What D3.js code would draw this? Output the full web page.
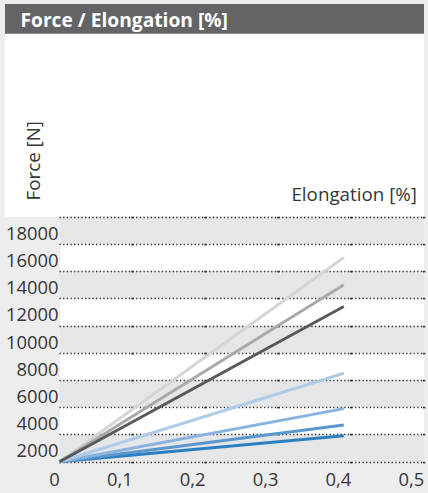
<!DOCTYPE html>
<html>
<head>
<meta charset="utf-8">
<script src="https://cdn.jsdelivr.net/npm/d3@7"></script>
<style>
  html, body { margin: 0; padding: 0; background: #ededed; }
  svg { display: block; font-family: "Open Sans", "Noto Sans", sans-serif; }
</style>
</head>
<body>
<svg id="chart" width="428" height="493"></svg>
<script>
// Elongation [%] sampled at the start and end of each test curve
const elongation = [0, 0.39];

// Force [N] for each curve, lightest grey to darkest blue
const forceLightGrey = [1000, 16000];
const forceMidGrey   = [1000, 14000];
const forceDarkGrey  = [1000, 12400];
const forceBlue1     = [1000, 7500];
const forceBlue2     = [1000, 4900];
const forceBlue3     = [1000, 3700];
const forceBlue4     = [1000, 2900];

const yTickValues = [2000, 4000, 6000, 8000, 10000, 12000, 14000, 16000, 18000];
const xTickValues = [0, 0.1, 0.2, 0.3, 0.4, 0.5];

const title = "Force / Elongation [%]";
const yTitle = "Force [N]";
const xTitle = "Elongation [%]";

const series = [
  { values: forceBlue4,     color: "#2a7fc0" },
  { values: forceBlue3,     color: "#5b97cf" },
  { values: forceBlue2,     color: "#88b3de" },
  { values: forceBlue1,     color: "#aecbe9" },
  { values: forceLightGrey, color: "#d4d5d7" },
  { values: forceMidGrey,   color: "#a8a9ac" },
  { values: forceDarkGrey,  color: "#59595c" }
];

const svg = d3.select("#chart");

const x = d3.scaleLinear().domain([0, 0.5]).range([59.5, 424]);
// each labelled value sits in the middle of its own band, bands are 2000 N tall
const y = d3.scaleLinear().domain([1000, 19000]).range([461.7, 216.7]);

// header bar
svg.append("rect").attr("x", 5).attr("y", 4).attr("width", 419).attr("height", 30).attr("fill", "#646466");
svg.append("rect").attr("x", 5).attr("y", 33).attr("width", 419).attr("height", 1.2).attr("fill", "#8d8d8f");
svg.append("text")
  .attr("x", 20.5).attr("y", 27.3)
  .attr("fill", "#ffffff")
  .attr("font-weight", 700)
  .attr("font-size", "19.2px")
  .text(title);

// white panel holding the axis titles
svg.append("rect").attr("x", 5).attr("y", 34.2).attr("width", 419).attr("height", y(19000) - 34.2).attr("fill", "#ffffff");

// alternating bands
const plot = svg.append("g");
plot.selectAll("rect.band")
  .data(yTickValues)
  .join("rect")
  .attr("class", "band")
  .attr("x", x(0) + 0.5)
  .attr("width", x(0.5) - x(0) - 0.5)
  .attr("y", d => y(d + 1000))
  .attr("height", d => y(d - 1000) - y(d + 1000))
  .attr("fill", d => (d / 2000) % 2 === 1 ? "#e5e6e7" : "#ffffff");

// dotted band boundaries
const gridValues = d3.range(1000, 19001, 2000);
plot.selectAll("line.grid")
  .data(gridValues)
  .join("line")
  .attr("class", "grid")
  .attr("x1", x(0)).attr("x2", x(0.5))
  .attr("y1", d => Math.round(y(d)) + 0.5)
  .attr("y2", d => Math.round(y(d)) + 0.5)
  .attr("stroke", "#2b2b2b")
  .attr("stroke-width", 1.3)
  .attr("stroke-dasharray", "1.3 2.35");

// heavier marks where the x ticks cross each boundary
const crossings = [];
gridValues.forEach(g => xTickValues.slice(1).forEach(t => crossings.push([t, g])));
plot.selectAll("rect.tick")
  .data(crossings)
  .join("rect")
  .attr("class", "tick")
  .attr("x", d => x(d[0]) - 1)
  .attr("y", d => Math.round(y(d[1])) - 0.2)
  .attr("width", 2.2)
  .attr("height", 1.6)
  .attr("fill", "#2b2b2b");

// curves
const line = d3.line()
  .x((d, i) => x(elongation[i]))
  .y(d => y(d));

svg.append("g")
  .selectAll("path")
  .data(series)
  .join("path")
  .attr("d", s => line(s.values))
  .attr("fill", "none")
  .attr("stroke", s => s.color)
  .attr("stroke-width", 3);

// y tick labels
svg.append("g")
  .selectAll("text")
  .data(yTickValues)
  .join("text")
  .attr("x", 58.5)
  .attr("y", d => y(d) + 9.3)
  .attr("text-anchor", "end")
  .attr("fill", "#363636")
  .attr("font-size", "18.4px")
  .text(d => d);

// x tick labels (decimal comma)
const fmtComma = d => d === 0 ? "0" : d3.format(".1f")(d).replace(".", ",");
svg.append("g")
  .selectAll("text")
  .data(xTickValues)
  .join("text")
  .attr("x", d => x(d) + 0.3)
  .attr("y", 485.5)
  .attr("text-anchor", "end")
  .attr("fill", "#363636")
  .attr("font-size", "18.4px")
  .text(fmtComma);

// axis titles
svg.append("text")
  .attr("transform", "translate(39.5,200.5) rotate(-90)")
  .attr("fill", "#363636")
  .attr("font-size", "18.8px")
  .text(yTitle);

svg.append("text")
  .attr("x", 417).attr("y", 200.5)
  .attr("text-anchor", "end")
  .attr("fill", "#363636")
  .attr("font-size", "18.8px")
  .text(xTitle);
</script>
</body>
</html>
